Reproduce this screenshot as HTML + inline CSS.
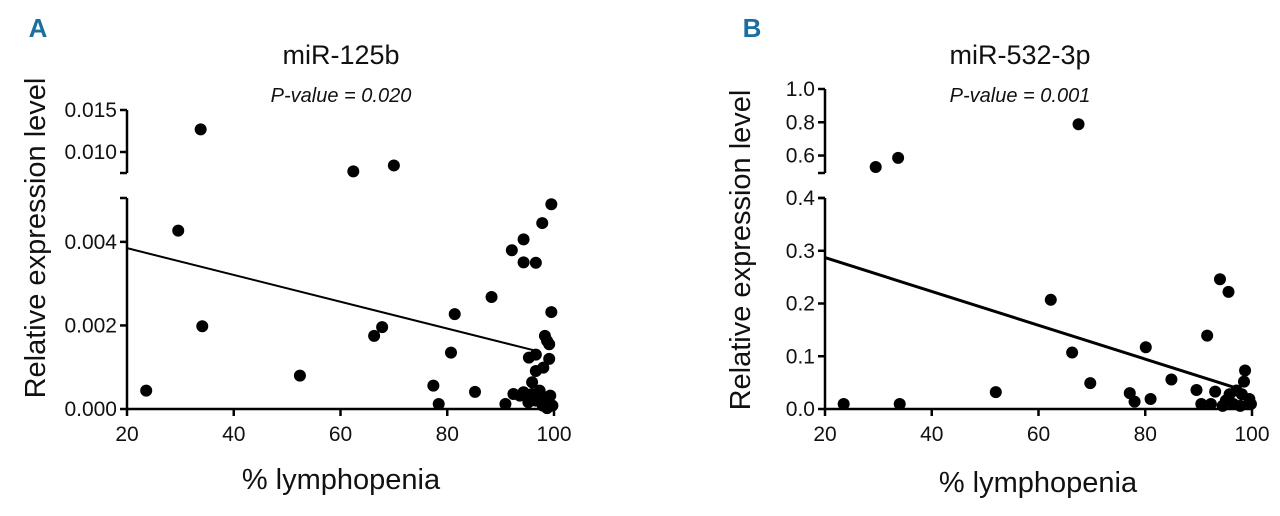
<!DOCTYPE html>
<html><head><meta charset="utf-8"><style>
body{margin:0;background:#fff;}
svg{display:block;font-family:"Liberation Sans",Arial,sans-serif;}
</style></head><body>
<svg id="chart" width="1280" height="516" viewBox="0 0 1280 516"></svg>
<script>
// Panel A data
const aX = [33.8,62.4,70.0,29.6,34.1,23.6,52.4,66.3,67.8,77.4,78.4,80.7,81.4,85.2,88.3,90.9,92.1,92.4,93.6,94.3,94.3,95.2,96.6,97.8,99.5,99.5,98.3,98.7,99.1,95.3,96.6,99.1,96.6,98.0,95.9,94.3,95.9,97.3,98.3,99.3,96.6,97.9,99.7,98.7];
const aY = [0.0127,0.0077,0.0084,0.00427,0.00198,0.00044,0.0008,0.00175,0.00196,0.00056,0.00012,0.00135,0.00227,0.00041,0.00268,0.00012,0.0038,0.00036,0.00032,0.00406,0.00351,0.00016,0.0035,0.00445,0.0049,0.00232,0.00175,0.00163,0.00155,0.00123,0.0013,0.0012,0.00091,0.00099,0.00064,0.0004,0.00036,0.00044,0.00028,0.00032,0.0002,0.00008,0.00008,0.00002];
const aFit = [0.00385,0.00138]; // at x=20 and x=97
const aLowTicks = [0,0.002,0.004];
const aLowLabels = ["0.000","0.002","0.004"];
const aUpTicks = [0.010,0.015];
const aUpLabels = ["0.010","0.015"];
// Panel B data
const bX = [67.5,29.5,33.7,23.5,34.0,52.0,62.3,66.3,69.7,77.1,78.0,80.1,81.0,84.9,89.6,90.5,92.3,91.6,93.1,94.0,95.6,98.7,98.5,97.1,95.8,98.1,99.5,95.1,96.5,97.8,99.8,94.5];
const bY = [0.788,0.531,0.586,0.0095,0.0095,0.032,0.207,0.107,0.049,0.03,0.014,0.117,0.019,0.056,0.036,0.0095,0.0095,0.139,0.033,0.246,0.222,0.073,0.052,0.035,0.028,0.028,0.019,0.016,0.0095,0.006,0.0095,0.006];
const bFit = [0.287,0.040];
const bLowTicks = [0,0.1,0.2,0.3,0.4];
const bLowLabels = ["0.0","0.1","0.2","0.3","0.4"];
const bUpTicks = [0.6,0.8,1.0];
const bUpLabels = ["0.6","0.8","1.0"];
const xTicks = [20,40,60,80,100];

const NS="http://www.w3.org/2000/svg";
const svg=document.getElementById('chart');
function mk(tag,attrs,parent){const e=document.createElementNS(NS,tag);for(const k in attrs)e.setAttribute(k,attrs[k]);(parent||svg).appendChild(e);return e;}

function panel(cfg){
  const g=mk('g',{});
  
  
  const x0=cfg.ax, x1=cfg.ax+427, yb=409, ylt=198, yub=173, yut=cfg.upTop;
  const sx=v=>x0+(v-20)/80*(x1-x0);
  const syL=v=>yb-(v-cfg.lowMin)/(cfg.lowMax-cfg.lowMin)*(yb-ylt);
  const syU=v=>yub-(v-cfg.upMin)/(cfg.upMax-cfg.upMin)*(yub-yut);
  const sy=v=>v>=cfg.upMin?syU(v):syL(v);
  const st={stroke:'#000','stroke-width':2.5,fill:'none'};
  const xa=mk('line',Object.assign({x1:x0,y1:yb,x2:x1,y2:yb},st),g);
  
  const yl=mk('line',Object.assign({x1:x0,y1:yb,x2:x0,y2:ylt},st),g);
  
  mk('line',Object.assign({x1:x0-7,y1:ylt,x2:x0,y2:ylt},st),g);
  const yu=mk('line',Object.assign({x1:x0,y1:yub,x2:x0,y2:yut},st),g);
  
  mk('line',Object.assign({x1:x0-7,y1:yub,x2:x0,y2:yub},st),g);
  xTicks.forEach(t=>{
    mk('line',Object.assign({x1:sx(t),y1:yb,x2:sx(t),y2:yb+7},st),g);
    const tx=mk('text',{x:sx(t),y:yb+32,'text-anchor':'middle','font-size':21,fill:'#111'},g);
    tx.textContent=t;
    
  });
  const yt=(ticks,labels,f)=>ticks.forEach((t,i)=>{
    mk('line',Object.assign({x1:x0-7,y1:f(t),x2:x0,y2:f(t)},st),g);
    const tx=mk('text',{x:x0-10,y:f(t)+7,'text-anchor':'end','font-size':21,fill:'#111'},g);
    tx.textContent=labels[i];
    
  });
  yt(cfg.lowTicks,cfg.lowLabels,syL);
  yt(cfg.upTicks,cfg.upLabels,syU);
  const fl=mk('line',{x1:sx(20),y1:syL(cfg.fit[0]),x2:sx(97),y2:syL(cfg.fit[1]),stroke:'#000','stroke-width':cfg.fitW},g);
  
  cfg.xs.forEach((v,i)=>{
    const c=mk('circle',{cx:sx(v),cy:sy(cfg.ys[i]),r:6,fill:'#000'},g);
    
    
  });
  const t=mk('text',{x:cfg.tx,y:64,'text-anchor':'middle','font-size':27,fill:'#111'},g);
  t.textContent=cfg.title;
  
  const p=mk('text',{x:cfg.tx,y:102,'text-anchor':'middle','font-size':20,'font-style':'italic',fill:'#111'},g);
  p.textContent=cfg.p;
  
  const yti=mk('text',{x:0,y:0,'text-anchor':'middle','font-size':29,fill:'#111',transform:`translate(${cfg.ytx},${cfg.yty}) rotate(-90)`},g);
  yti.textContent='Relative expression level';
  
  const xti=mk('text',{x:cfg.xtx,y:cfg.xty,'text-anchor':'middle','font-size':29,fill:'#111'},g);
  xti.textContent='% lymphopenia';
  
  const L=mk('text',{x:cfg.lx,y:37,'text-anchor':'middle','font-size':26,'font-weight':'bold',fill:'#1a6fa0'},g);
  L.textContent=cfg.letter;
  
}
panel({name:'panel-a',ax:127,upTop:110,lowMin:0,lowMax:0.00505,upMin:0.0075,upMax:0.015,
  lowTicks:aLowTicks,lowLabels:aLowLabels,upTicks:aUpTicks,upLabels:aUpLabels,
  xs:aX,ys:aY,fit:aFit,fitW:2,title:'miR-125b',p:'P-value = 0.020',tx:341,
  ytx:45,yty:238,xtx:341,xty:489,lx:38,letter:'A'});
panel({name:'panel-b',ax:825,upTop:89,lowMin:0,lowMax:0.4,upMin:0.495,upMax:1.0,
  lowTicks:bLowTicks,lowLabels:bLowLabels,upTicks:bUpTicks,upLabels:bUpLabels,
  xs:bX,ys:bY,fit:bFit,fitW:3,title:'miR-532-3p',p:'P-value = 0.001',tx:1020,
  ytx:750,yty:250,xtx:1038,xty:492,lx:752,letter:'B'});
</script>
</body></html>
